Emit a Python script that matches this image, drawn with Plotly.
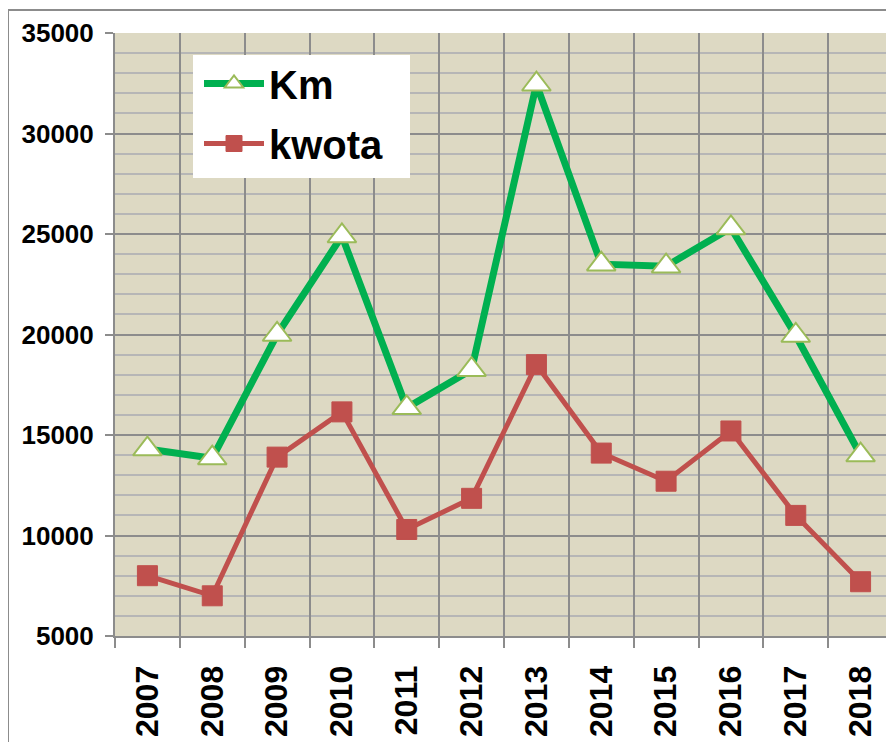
import plotly.graph_objects as go

years = ["2007", "2008", "2009", "2010", "2011", "2012", "2013", "2014", "2015", "2016", "2017", "2018"]
km = [14300, 13850, 20000, 24900, 16350, 18250, 32450, 23500, 23400, 25300, 19950, 14000]
kwota = [8000, 7000, 13900, 16150, 10300, 11850, 18500, 14100, 12700, 15200, 11000, 7700]

FONT = "Liberation Sans, Arial, sans-serif"
GRID_DARK = "#8c8c8c"
GRID_LIGHT = "#b6b6b6"

# page has an 8px body margin; figure box starts at (8, 8)
W, H = 886, 734
ML, MT, MR, MB = 107, 25, 1, 106
PW, PH = W - ML - MR, H - MT - MB


def px_x(xp):  # page x -> paper fraction
    return (xp - 8 - ML) / PW


def px_y(yp):  # page y -> paper fraction
    return 1 - (yp - 8 - MT) / PH


fig = go.Figure()
fig.add_trace(go.Scatter(
    x=years, y=km, name="<b>Km</b>", mode="lines+markers",
    legendgroup="a",
    line=dict(color="#00B050", width=7),
    marker=dict(symbol="triangle-up", size=25, color="white",
                line=dict(color="#9BBB59", width=2)),
))
fig.add_trace(go.Scatter(
    x=years, y=kwota, name="<b>kwota</b>", mode="lines+markers",
    legendgroup="b",
    line=dict(color="#C0504D", width=5),
    marker=dict(symbol="square", size=20, color="#C0504D",
                line=dict(color="#C0504D", width=1)),
))

fig.update_layout(
    width=W, height=H,
    margin=dict(l=ML, r=MR, t=MT, b=MB, autoexpand=False),
    paper_bgcolor="white",
    plot_bgcolor="#DDD9C3",
    font=dict(family=FONT, color="black"),
    showlegend=True,
    legend=dict(
        x=px_x(199), y=px_y(51), xanchor="left", yanchor="top",
        bgcolor="rgba(0,0,0,0)", borderwidth=0,
        font=dict(size=40, family=FONT, color="black"),
        traceorder="grouped", tracegroupgap=5,
        itemwidth=60,
    ),
    xaxis=dict(
        type="category", range=[-0.5, 11.5], automargin=False,
        tickson="boundaries", ticks="outside", ticklen=10,
        tickcolor=GRID_DARK, tickwidth=2,
        showgrid=True, gridcolor=GRID_DARK, gridwidth=2,
        showline=True, linecolor=GRID_DARK, linewidth=2,
        tickangle=-90, ticklabelstandoff=15,
        tickfont=dict(size=32, family=FONT, color="black", weight="bold"),
    ),
    yaxis=dict(
        range=[5000, 35000], dtick=5000, tick0=5000, tickformat="d",
        automargin=False,
        ticks="outside", ticklen=8, tickcolor=GRID_DARK, tickwidth=2,
        showgrid=True, gridcolor=GRID_DARK, gridwidth=2,
        showline=True, linecolor=GRID_DARK, linewidth=2,
        zeroline=False,
        ticklabelstandoff=6,
        tickfont=dict(size=26, family=FONT, color="black", weight="bold"),
        minor=dict(dtick=1000, showgrid=True, gridcolor=GRID_LIGHT, gridwidth=2, ticks=""),
    ),
    shapes=[
        dict(
            type="rect", xref="paper", yref="paper",
            x0=px_x(8), x1=1.05, y0=-0.3, y1=px_y(10),
            line=dict(color="#8c8c8c", width=2), fillcolor="rgba(0,0,0,0)",
            layer="below",
        ),
        dict(
            type="rect", xref="paper", yref="paper",
            x0=px_x(193), x1=px_x(410), y0=px_y(178), y1=px_y(55),
            line=dict(width=0), fillcolor="white", layer="above",
        ),
    ],
)

fig.write_html("out.html")
